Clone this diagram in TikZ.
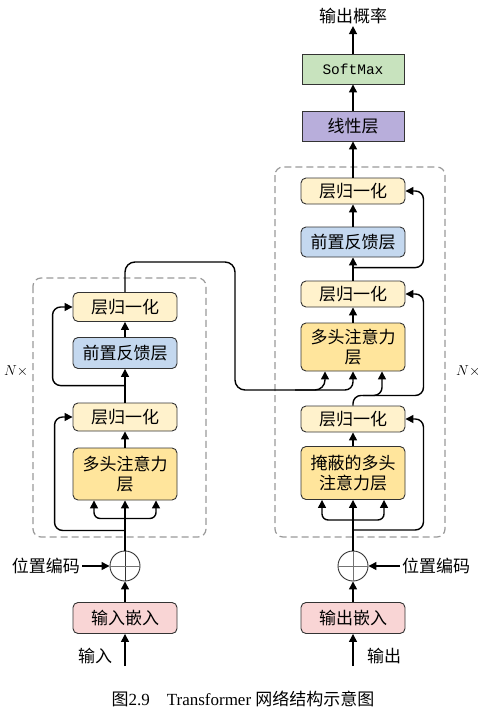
\documentclass[tikz,border=0pt]{standalone}
\usepackage{fontspec}
\setmainfont{Liberation Serif}
\setmonofont{Liberation Mono}
\newfontfamily\cjk{Noto Sans CJK SC}
\usetikzlibrary{arrows.meta}
\definecolor{lnfill}{HTML}{FFF2CC}
\definecolor{fffill}{HTML}{C4D8EF}
\definecolor{mhfill}{HTML}{FFE59C}
\definecolor{embfill}{HTML}{F9D5D5}
\definecolor{smfill}{HTML}{C8E3BE}
\definecolor{linfill}{HTML}{B8AEDB}

\begin{document}
\begin{tikzpicture}
  [x=1pt,y=-1pt,
   every node/.style={font=\cjk\fontsize{17}{20.5}\selectfont},
   box/.style={draw=black!80,line width=0.9pt,rounded corners=5pt,minimum width=104pt,minimum height=28pt,inner sep=0pt,align=center},
   ln/.style={box,fill=lnfill},
   ff/.style={box,fill=fffill,minimum height=31pt},
   mh/.style={box,fill=mhfill,minimum height=52pt},
   emb/.style={box,fill=embfill,minimum height=31pt},
   top/.style={box,rounded corners=0pt,minimum width=102pt,minimum height=30pt},
   plus/.style={circle,draw=black!80,line width=0.9pt,minimum size=30pt,inner sep=0pt},
   lbl/.style={inner sep=2pt},
   arr/.style={line width=1.4pt,-{Triangle[length=8pt,width=8pt]}},
   frame/.style={draw=black!40,line width=1.2pt,dash pattern=on 7pt off 4pt,rounded corners=8pt}]

  \useasboundingbox (0,0) rectangle (478,717);

  \draw[frame] (33,278) rectangle (206,537); % encoder block
  \draw[frame] (275,167) rectangle (445,537); % decoder block

  % encoder side
  \node[lbl] (einl) at (95,656) {输入};
  \coordinate (ein) at (125,666);
  \node[emb] (eemb) at (125,618) {输入嵌入};
  \node[plus] (eplus) at (125,566) {};
  \node[lbl] (epos) at (46,566) {位置编码};
  \node[mh] (emha) at (125,474) {多头注意力\\层};
  \node[ln] (eln1) at (125,417) {层归一化};
  \node[ff] (eff) at (125,353) {前置反馈层};
  \node[ln,minimum height=29pt] (eln2) at (125,307) {层归一化};
  \node[font=\fontsize{14}{16}\selectfont] (enx) at (16,371) {$N\times$};

  % decoder side
  \node[lbl] (doutl) at (384,656) {输出};
  \coordinate (din) at (353,666);
  \node[emb] (demb) at (353,618) {输出嵌入};
  \node[plus] (dplus) at (353,566) {};
  \node[lbl] (dpos) at (436,566) {位置编码};
  \node[mh,minimum height=53pt] (dmmha) at (353,473) {掩蔽的多头\\注意力层};
  \node[ln,minimum height=26pt] (dln1) at (353,419) {层归一化};
  \node[mh,minimum height=48pt] (dmha) at (353,347) {多头注意力\\层};
  \node[ln,minimum height=26pt] (dln2) at (353,294) {层归一化};
  \node[ff,minimum height=30pt] (dff) at (353,242) {前置反馈层};
  \node[ln,minimum height=26pt] (dln3) at (353,191) {层归一化};
  \node[font=\fontsize{14}{16}\selectfont,anchor=west,inner sep=0pt] (dnx) at (456,371) {$N\times$};

  % output head
  \node[top,fill=linfill] (lin) at (353,126) {线性层};
  \node[top,fill=smfill,font=\ttfamily\fontsize{14.5}{17}\selectfont] (soft) at (353,69) {SoftMax};
  \node[lbl] (prob) at (353,16) {输出概率};

  \draw[black!80,line width=0.9pt] (eplus.north) -- (eplus.south);
  \draw[black!55,line width=0.9pt] (eplus.west) -- (eplus.east);
  \draw[black!55,line width=0.9pt] (dplus.north) -- (dplus.south) (dplus.west) -- (dplus.east);

  % encoder connectors
  \draw[arr] (ein) -- (eemb);
  \draw[arr] (eemb) -- (eplus);
  \draw[arr] (epos) -- (eplus);
  \draw[arr] (eplus) -- (emha);
  \draw[arr,rounded corners=6pt] ([yshift=-18pt]emha.south) -| ([xshift=-31pt]emha.south);
  \draw[arr,rounded corners=6pt] ([yshift=-18pt]emha.south) -| ([xshift=31pt]emha.south);
  \draw[arr,rounded corners=8pt] ([yshift=-30pt]emha.south) -| ([xshift=-18pt]eln1.west) -- (eln1.west);
  \draw[arr] (emha) -- (eln1);
  \draw[arr] (eln1) -- (eff);
  \draw[arr,rounded corners=8pt] ([yshift=17pt]eln1.north) -| ([xshift=-20pt]eln2.west) -- (eln2.west);
  \draw[arr] (eff) -- (eln2);

  % encoder output into decoder
  \coordinate (mtop) at (235,262);
  \coordinate (mbot) at (235,390);
  \draw[arr,rounded corners=10pt] (eln2.north) |- (mtop) -- (mbot) -| ([xshift=-28pt]dmha.south);
  \draw[arr,rounded corners=8pt] ([xshift=60pt]mbot) -| (dmha.south);

  % decoder connectors
  \draw[arr] (din) -- (demb);
  \draw[arr] (demb) -- (dplus);
  \draw[arr] (dpos) -- (dplus);
  \draw[arr] (dplus) -- (dmmha);
  \draw[arr,rounded corners=6pt] ([yshift=-20pt]dmmha.south) -| ([xshift=-31pt]dmmha.south);
  \draw[arr,rounded corners=6pt] ([yshift=-20pt]dmmha.south) -| ([xshift=31pt]dmmha.south);
  \draw[arr,rounded corners=8pt] ([yshift=-30pt]dmmha.south) -| ([xshift=18pt]dln1.east) -- (dln1.east);
  \draw[arr] (dmmha) -- (dln1);
  \draw[arr,rounded corners=8pt] (dln1.north) -- ([yshift=-24pt]dmha.south) -| ([xshift=29pt]dmha.south);
  \draw[arr,rounded corners=8pt] ([xshift=10pt,yshift=-24pt]dmha.south) -| ([xshift=18pt]dln2.east) -- (dln2.east);
  \draw[arr] (dmha) -- (dln2);
  \draw[arr] (dln2) -- (dff);
  \draw[arr,rounded corners=8pt] ([yshift=13pt]dln2.north) -| ([xshift=18pt]dln3.east) -- (dln3.east);
  \draw[arr] (dff) -- (dln3);
  \draw[arr] (dln3) -- (lin);
  \draw[arr] (lin) -- (soft);
  \draw[arr] (soft) -- (prob);

  \node[font=\fontsize{17}{20}\selectfont] (cap) at (243,699) {{\cjk 图}2.9\hspace{17pt}Transformer {\cjk 网络结构示意图}};
\end{tikzpicture}
\end{document}
